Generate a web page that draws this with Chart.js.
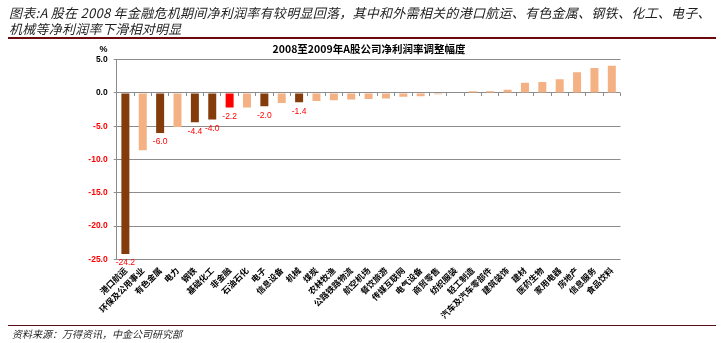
<!DOCTYPE html>
<html lang="zh-CN">
<head>
<meta charset="utf-8">
<title>2008至2009年A股公司净利润率调整幅度</title>
<script src="https://cdn.jsdelivr.net/npm/chart.js@4.4.1/dist/chart.umd.min.js"></script>
<style>
  html, body { margin: 0; padding: 0; background: #ffffff; }
  body { width: 723px; height: 343px; position: relative; overflow: hidden; }
  #head {
    position: absolute; left: 9px; top: 4.5px; width: 712px;
    font: italic 13px/16.5px "Noto Sans CJK SC", sans-serif;
    letter-spacing: 0.27px;
    color: #1e1e1e; white-space: nowrap;
  }
  .rule { position: absolute; left: 8px; width: 708px; }
  #ruleTop { top: 37px; height: 2px; background: #6b0a0c; }
  #ruleBottom { top: 324.5px; height: 1.5px; background: #5a1018; }
  #chartTitle {
    position: absolute; left: 168px; width: 402px; top: 42px; text-align: center;
    font: bold 10.5px/14px "Noto Sans CJK SC", sans-serif; color: #000;
  }
  #unit {
    position: absolute; left: 96px; width: 15px; top: 43px; text-align: center;
    font: bold 9px/12px "Liberation Sans", Arial, sans-serif; color: #000;
  }
  #source {
    position: absolute; left: 12px; top: 327px;
    font: italic 10px/14px "Noto Sans CJK SC", sans-serif; color: #1e1e1e;
  }
  #wrap { position: absolute; left: 0; top: 0; width: 723px; height: 343px; }
</style>
</head>
<body>
<div id="wrap"><canvas id="chart"></canvas></div>
<div id="head">图表:A 股在 2008 年金融危机期间净利润率有较明显回落，其中和外需相关的港口航运、有色金属、钢铁、化工、电子、<br>机械等净利润率下滑相对明显</div>
<div id="ruleTop" class="rule"></div>
<div id="chartTitle">2008至2009年A股公司净利润率调整幅度</div>
<div id="unit">%</div>
<div id="ruleBottom" class="rule"></div>
<div id="source">资料来源：万得资讯，中金公司研究部</div>
<script>
// Industries, ordered from the largest fall to the largest rise
const industries = [
  '港口航运', '环保及公用事业', '有色金属', '电力', '钢铁', '基础化工', '非金融',
  '石油石化', '电子', '信息设备', '机械', '煤炭', '农林牧渔', '公路铁路物流',
  '航空机场', '餐饮旅游', '传媒互联网', '电气设备', '商贸零售', '纺织服装',
  '轻工制造', '汽车及汽车零部件', '建筑装饰', '建材', '医药生物', '家用电器',
  '房地产', '信息服务', '食品饮料'
];

// Change in net profit margin, 2008 vs 2009 (percentage points)
const marginChange = [
  -24.2, -8.6, -6.0, -5.1, -4.4, -4.0, -2.2,
  -2.2, -2.0, -1.5, -1.4, -1.2, -1.1, -1.0,
  -0.9, -0.85, -0.55, -0.5, -0.2, 0.0,
  0.25, 0.25, 0.5, 1.55, 1.65, 2.05,
  3.1, 3.75, 4.1
];

// Group of each industry: 'external' = tied to external demand, 'market' = non-financial total, 'other'
const group = [
  'external', 'other', 'external', 'other', 'external', 'external', 'market',
  'other', 'external', 'other', 'external', 'other', 'other', 'other',
  'other', 'other', 'other', 'other', 'other', 'other',
  'other', 'other', 'other', 'other', 'other', 'other',
  'other', 'other', 'other'
];

// Value axis ticks
const valueTicks = [5, 0, -5, -10, -15, -20, -25];

const palette = { external: '#843c0c', market: '#ff0000', other: '#f4b183' };
const gridGrey = '#8c8c8c';

// Prints the value under every highlighted bar
const barValueLabels = {
  id: 'barValueLabels',
  afterDatasetsDraw(chart) {
    const meta = chart.getDatasetMeta(0);
    const ctx = chart.ctx;
    ctx.save();
    ctx.font = '8.5px "Liberation Sans", Arial, sans-serif';
    ctx.fillStyle = '#ff0000';
    ctx.textAlign = 'center';
    ctx.textBaseline = 'middle';
    meta.data.forEach((bar, i) => {
      if (group[i] === 'other') return;
      ctx.fillText(marginChange[i].toFixed(1), bar.x, bar.y + 9);
    });
    ctx.restore();
  }
};

new Chart(document.getElementById('chart'), {
  type: 'bar',
  data: {
    labels: industries,
    datasets: [{
      data: marginChange,
      backgroundColor: group.map(g => palette[g]),
      borderWidth: 0,
      categoryPercentage: 1,
      barPercentage: 0.46
    }]
  },
  options: {
    responsive: true,
    maintainAspectRatio: false,
    animation: false,
    devicePixelRatio: 1,
    layout: { padding: { left: 76.7, right: 102.5, top: 59.7, bottom: 0 } },
    plugins: { legend: { display: false }, tooltip: { enabled: false } },
    scales: {
      x: {
        type: 'category',
        position: 'bottom',
        offset: true,
        grid: { display: false, drawTicks: false, offset: true },
        border: { display: false },
        ticks: {
          autoSkip: false,
          minRotation: 45,
          maxRotation: 45,
          padding: 6,
          color: '#000',
          font: { family: '"Noto Sans CJK SC", sans-serif', size: 8.5, weight: 'bold' }
        },
        afterFit(scale) { scale.height = 83.7; }
      },
      xZero: {
        type: 'category',
        axis: 'x',
        position: { y: 0 },
        offset: true,
        grid: { offset: true, drawOnChartArea: false, drawTicks: true, tickLength: 3, color: gridGrey, lineWidth: 1 },
        border: { display: false },
        ticks: { display: false }
      },
      y: {
        min: -25,
        max: 5,
        afterBuildTicks(scale) { scale.ticks = valueTicks.map(v => ({ value: v })); },
        grid: { color: gridGrey, lineWidth: 1, drawTicks: true, tickLength: 3 },
        border: { display: true, color: gridGrey, width: 1 },
        ticks: {
          padding: 6,
          color: ctx => (ctx.tick && ctx.tick.value < 0 ? '#ff0000' : '#000000'),
          font: { family: '"Liberation Sans", Arial, sans-serif', size: 8.5, weight: 'bold' },
          callback: v => Number(v).toFixed(1)
        },
        afterFit(scale) { scale.width = 40; }
      }
    }
  },
  plugins: [barValueLabels]
});
</script>
</body>
</html>
